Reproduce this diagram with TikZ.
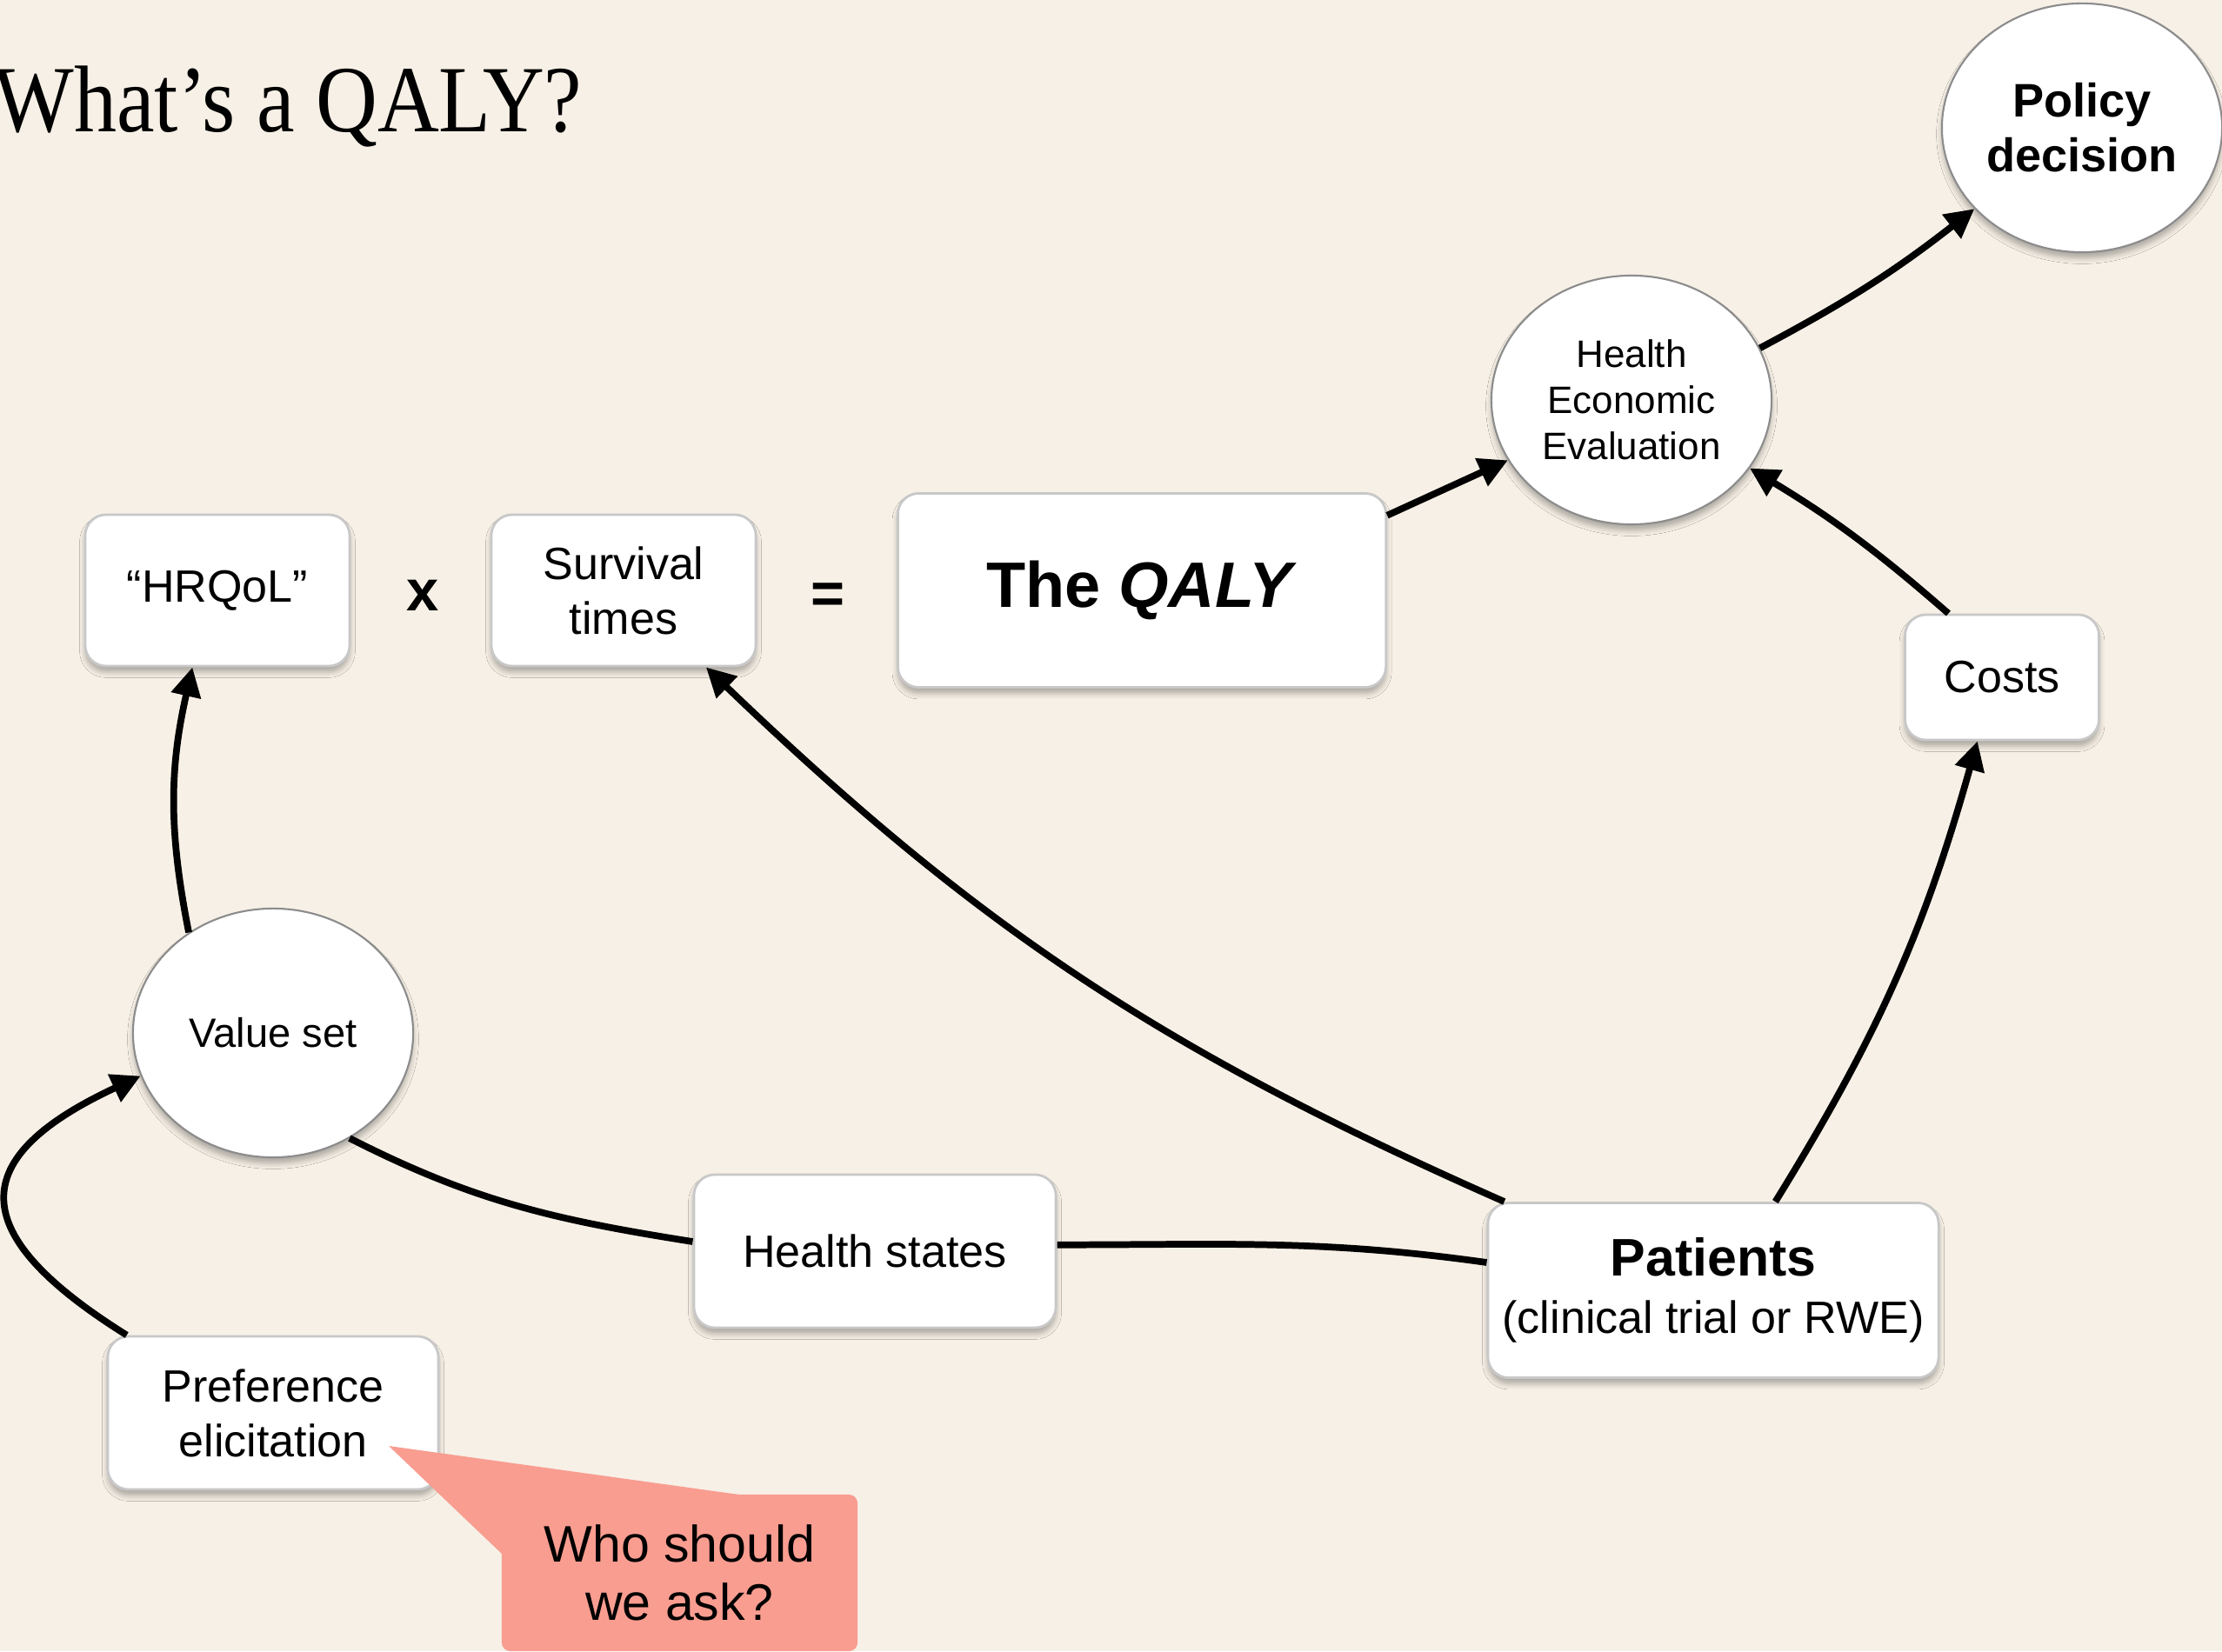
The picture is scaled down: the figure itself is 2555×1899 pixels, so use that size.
\documentclass[tikz,border=0pt]{standalone}
\usepackage{fontspec}
\setmainfont{Liberation Sans}
\newfontfamily\titlefont[FakeStretch=0.9]{Liberation Serif}
\usetikzlibrary{shapes.geometric,arrows.meta,shadows.blur}
\definecolor{paper}{HTML}{F7F0E6}
\definecolor{edge}{HTML}{C8C8C8}
\definecolor{salmon}{HTML}{F99D91}
\tikzset{every node/.style={inner sep=0pt,align=center,font=\fontsize{14.8pt}{17.9pt}\selectfont}}
\tikzset{box/.style={rectangle,rounded corners=0.24cm,draw=edge,line width=0.8pt,fill=white,
  blur shadow={shadow xshift=0pt,shadow yshift=-2pt,shadow blur radius=1.8pt,shadow opacity=30}}}
\tikzset{oval/.style={ellipse,draw=black!45,line width=0.6pt,fill=white,minimum width=3.22cm,minimum height=2.86cm,
  blur shadow={shadow xshift=0pt,shadow yshift=-2pt,shadow blur radius=1.8pt,shadow opacity=30}}}
\tikzset{wire/.style={line width=2.2pt}}
\tikzset{op/.style={font=\bfseries\fontsize{19pt}{19pt}\selectfont}}

\begin{document}
\begin{tikzpicture}[x=0.01cm,y=0.01cm,>={Triangle[length=9.5pt,width=9.5pt]}]
  \useasboundingbox (0,0) rectangle (2555,1899);
  \fill[paper] (0,0) rectangle (2555,1899);
  \node[anchor=base west,font={\titlefont\fontsize{31pt}{34pt}\selectfont}] (title) at (-8,1747) {What’s a QALY?};

  % the product
  \node[box,minimum width=3.04cm,minimum height=1.74cm] (hrqol) at (250,1220) {“HRQoL”};
  \node[op] (times) at (486,1214) {x};
  \node[box,minimum width=3.04cm,minimum height=1.74cm] (surv) at (717,1220) {Survival\\times};
  \node[op] (eq) at (952,1211) {=};
  \node[box,minimum width=5.61cm,minimum height=2.23cm,font=\bfseries\fontsize{21pt}{24pt}\selectfont] (qaly) at (1313,1220) {The \textit{QALY}};

  \node[oval,font=\fontsize{12.5pt}{15.1pt}\selectfont] (hee) at (1876,1439) {Health\\Economic\\Evaluation};
  \node[oval,font=\bfseries\fontsize{15.4pt}{17.9pt}\selectfont] (policy) at (2394,1752) {Policy\\decision};
  \node[box,minimum width=2.23cm,minimum height=1.44cm] (costs) at (2302,1120) {Costs};
  \node[oval,font=\fontsize{13.4pt}{16pt}\selectfont] (value) at (314,711) {Value set};
  \node[box,minimum width=4.16cm,minimum height=1.76cm] (states) at (1006,460) {Health states};
  \node[box,minimum width=5.18cm,minimum height=2.01cm] (patients) at (1970,415)
    {{\bfseries\fontsize{17.3pt}{18pt}\selectfont Patients}\\[0.9pt](clinical trial or RWE)};
  \node[box,minimum width=3.80cm,minimum height=1.76cm] (pref) at (314,274) {Preference\\elicitation};

  % callout
  \node[fill=salmon,rounded corners=0.1cm,minimum width=4.09cm,minimum height=1.80cm,
    font=\fontsize{16.8pt}{19.1pt}\selectfont] (ask) at (781.5,90) {Who should\\we ask?};
  \coordinate (tip) at (447,236);
  \fill[salmon] (577,112) -- (tip) -- (850,180) -- (590,170) -- cycle;

  \draw[wire,->] (value.130) to[bend left=12] (hrqol.-108);
  \draw[wire,->] (pref.152) to[out=148,in=205,looseness=1.9] (value.198);
  \draw[wire] (states.177) to[out=171,in=-27] (value.-54);
  \draw[wire] (patients.173) to[out=172,in=0] (states.2);
  \draw[wire,->] (patients.157) to[bend left=10] (surv.-43);
  \draw[wire,->] (patients.55) to[bend right=8] (costs.-111);
  \draw[wire,->] (costs.130) to[bend right=5] (hee.-30);
  \draw[wire,->] (qaly.17) -- (hee.206);
  \draw[wire,->] (hee.22) to[bend right=5] (policy.217);
\end{tikzpicture}
\end{document}
